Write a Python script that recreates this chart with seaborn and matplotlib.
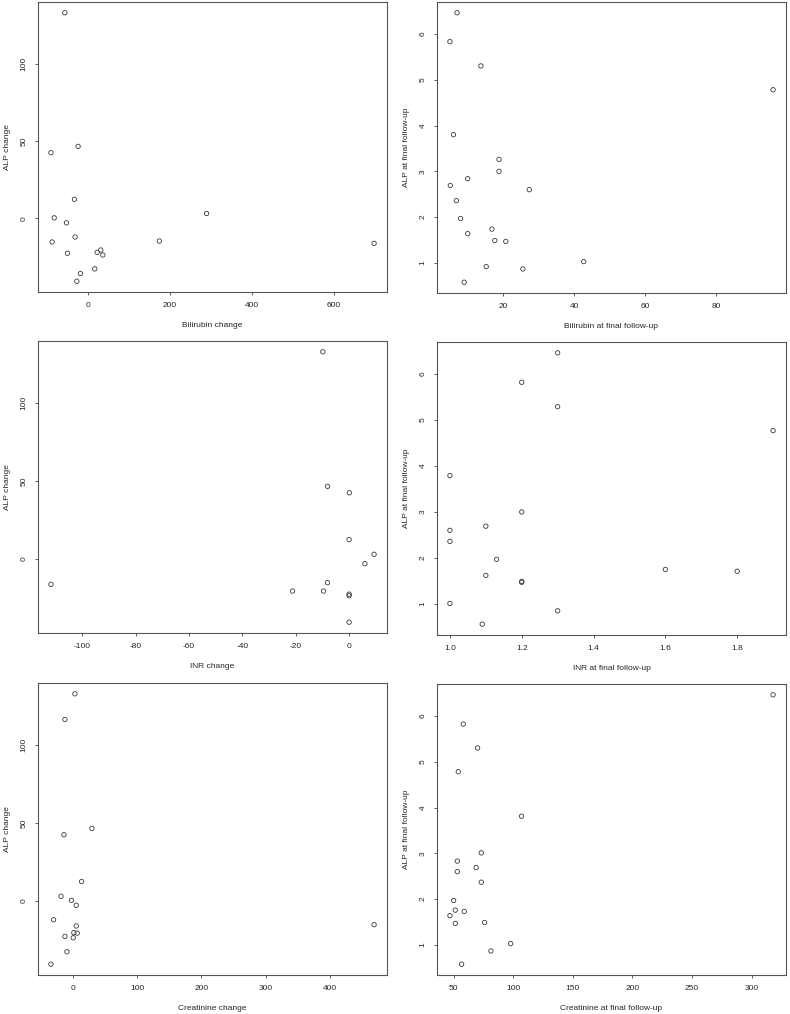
import numpy as np
import pandas as pd
import seaborn as sns
import matplotlib
matplotlib.use("Agg")
import matplotlib.pyplot as plt
from matplotlib.ticker import MultipleLocator

# Bilirubin change vs ALP change
bili_change = [-56, -90, -23.6, -32.5, -82, -52, -31, -87, -49.6, 22.8, 31.7, 36.6, 17, -17.9, -26.8, 174.8, 290, 699]
alp_change_b = [133, 42.5, 46.6, 12.4, 0.4, -2.8, -12, -15.2, -22.5, -21.9, -20.4, -23.6, -32.6, -35.6, -40.6, -14.6, 3.2, -16.1]

# Bilirubin at final follow-up vs ALP at final follow-up
bili_final = [7.1, 5.1, 13.8, 95.9, 6.1, 18.9, 18.9, 10.1, 5.2, 27.4, 6.9, 8.1, 16.9, 10.1, 17.7, 20.8, 42.7, 15.3, 25.6, 9.1]
alp_final_b = [6.46, 5.83, 5.30, 4.78, 3.80, 3.26, 3.00, 2.84, 2.69, 2.60, 2.36, 1.97, 1.74, 1.64, 1.49, 1.47, 1.03, 0.92, 0.87, 0.58]

# INR change vs ALP change
inr_change = [-111.7, -9.85, -8.1, 0.1, 0, 9.35, 5.9, -8.1, -21.2, -9.6, 0, 0, 0]
alp_change_i = [-16.3, 133, 46.6, 42.5, 12.4, 3, -3, -15.2, -20.6, -20.6, -22.6, -23.6, -40.6]

# INR at final follow-up vs ALP at final follow-up
inr_final = [1.30, 1.2, 1.30, 1.90, 1.0, 1.2, 1.10, 1.0, 1.0, 1.13, 1.6, 1.8, 1.1, 1.2, 1.2, 1.0, 1.3, 1.09]
alp_final_i = [6.46, 5.82, 5.29, 4.77, 3.79, 3.0, 2.69, 2.60, 2.36, 1.97, 1.75, 1.71, 1.62, 1.47, 1.49, 1.01, 0.85, 0.56]

# Creatinine change vs ALP change
creat_change = [3.6, -11.9, 30, -13.4, 14, -18, -1.6, 5.7, -29.5, 5.7, 2, 7.2, -11.9, 1, -8.8, -33.6, 468]
alp_change_c = [133.1, 116.6, 46.5, 42.4, 12.3, 2.8, 0.2, -3, -12.3, -16.3, -20.6, -20.9, -23, -23.9, -32.9, -40.9, -15.5]

# Creatinine at final follow-up vs ALP at final follow-up
creat_final = [318, 58.1, 70.1, 53.9, 107, 73.2, 53.1, 68.9, 53.1, 73.2, 50, 51.4, 58.9, 46.9, 76, 51.4, 97.8, 81.3, 56.7]
alp_final_c = [6.46, 5.82, 5.30, 4.78, 3.81, 3.01, 2.83, 2.69, 2.60, 2.37, 1.97, 1.76, 1.73, 1.64, 1.49, 1.47, 1.03, 0.87, 0.58]

sns.set_style("ticks")
plt.rcParams['font.family'] = ['Liberation Sans', 'DejaVu Sans']
plt.rcParams['axes.unicode_minus'] = False

W, H = 790, 1014
fig = plt.figure(figsize=(W / 100, H / 100), dpi=100)

panels = [
    (bili_change, alp_change_b, "Bilirubin change", "ALP change", 200, 50),
    (bili_final, alp_final_b, "Bilirubin at final follow-up", "ALP at final follow-up", 20, 1),
    (inr_change, alp_change_i, "INR change", "ALP change", 20, 50),
    (inr_final, alp_final_i, "INR at final follow-up", "ALP at final follow-up", 0.2, 1),
    (creat_change, alp_change_c, "Creatinine change", "ALP change", 100, 50),
    (creat_final, alp_final_c, "Creatinine at final follow-up", "ALP at final follow-up", 50, 1),
]

# pixel boxes: left, top, right, bottom
boxes = [
    (38, 2, 387, 292), (437, 2, 786, 293),
    (38, 341, 387, 633), (437, 342, 786, 635),
    (38, 683, 387, 975), (437, 684, 786, 975),
]

for (x, y, xl, yl, xs, ys), (l, t, r, b) in zip(panels, boxes):
    ax = fig.add_axes([l / W, 1 - b / H, (r - l) / W, (b - t) / H])
    df = pd.DataFrame({"x": x, "y": y})
    sns.scatterplot(data=df, x="x", y="y", ax=ax, marker="o", s=10,
                    facecolor="none", edgecolor="#3a3a3a", linewidth=0.6)
    xr = max(x) - min(x)
    yr = max(y) - min(y)
    ax.set_xlim(min(x) - 0.04 * xr, max(x) + 0.04 * xr)
    ax.set_ylim(min(y) - 0.04 * yr, max(y) + 0.04 * yr)
    ax.xaxis.set_major_locator(MultipleLocator(xs))
    ax.yaxis.set_major_locator(MultipleLocator(ys))
    ax.set_xlabel(xl, fontsize=6, labelpad=9)
    ax.set_ylabel(yl, fontsize=6, labelpad=7)
    ax.tick_params(labelsize=6, length=2.5, width=0.6, color="#444444", pad=5)
    for lab in ax.get_yticklabels():
        lab.set_rotation(90)
        lab.set_va("center")
    for sp in ax.spines.values():
        sp.set_visible(True)
        sp.set_linewidth(0.8)
        sp.set_color("#555555")

fig.savefig("out.png", dpi=100)
